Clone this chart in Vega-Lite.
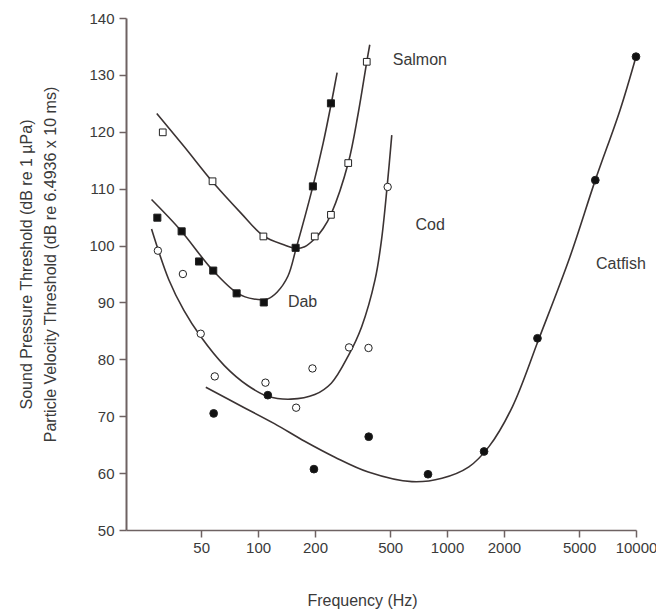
{
  "$schema": "https://vega.github.io/schema/vega-lite/v6.json",
  "autosize": {"type": "none"},
  "width": 510,
  "height": 512,
  "padding": {"left": 126, "top": 18, "right": 20, "bottom": 82},
  "background": "white",
  "config": {
    "view": {"stroke": null},
    "font": "Liberation Sans",
    "axis": {"grid": false}
  },
  "datasets": {
    "points": [
      {"species": "Salmon", "freq": 31.3, "threshold": 119.9},
      {"species": "Salmon", "freq": 57.4, "threshold": 111.3},
      {"species": "Salmon", "freq": 106.7, "threshold": 101.6},
      {"species": "Salmon", "freq": 199.5, "threshold": 101.6},
      {"species": "Salmon", "freq": 243, "threshold": 105.4},
      {"species": "Salmon", "freq": 300, "threshold": 114.5},
      {"species": "Salmon", "freq": 376, "threshold": 132.3},
      {"species": "Dab", "freq": 29.3, "threshold": 104.9},
      {"species": "Dab", "freq": 39.4, "threshold": 102.5},
      {"species": "Dab", "freq": 48.7, "threshold": 97.2},
      {"species": "Dab", "freq": 57.9, "threshold": 95.6},
      {"species": "Dab", "freq": 77, "threshold": 91.6},
      {"species": "Dab", "freq": 107.2, "threshold": 90.0},
      {"species": "Dab", "freq": 158, "threshold": 99.6},
      {"species": "Dab", "freq": 195, "threshold": 110.4},
      {"species": "Dab", "freq": 243, "threshold": 125.0},
      {"species": "Cod", "freq": 29.5, "threshold": 99.1},
      {"species": "Cod", "freq": 40, "threshold": 95.0},
      {"species": "Cod", "freq": 49.7, "threshold": 84.5},
      {"species": "Cod", "freq": 59, "threshold": 77.0},
      {"species": "Cod", "freq": 109.4, "threshold": 75.9},
      {"species": "Cod", "freq": 159, "threshold": 71.5},
      {"species": "Cod", "freq": 194, "threshold": 78.4},
      {"species": "Cod", "freq": 303, "threshold": 82.1},
      {"species": "Cod", "freq": 384, "threshold": 82.0},
      {"species": "Cod", "freq": 485, "threshold": 110.3},
      {"species": "Catfish", "freq": 58.2, "threshold": 70.5},
      {"species": "Catfish", "freq": 112.6, "threshold": 73.7},
      {"species": "Catfish", "freq": 197.5, "threshold": 60.7},
      {"species": "Catfish", "freq": 385, "threshold": 66.4},
      {"species": "Catfish", "freq": 793, "threshold": 59.8},
      {"species": "Catfish", "freq": 1570, "threshold": 63.8},
      {"species": "Catfish", "freq": 3010, "threshold": 83.7},
      {"species": "Catfish", "freq": 6090, "threshold": 111.5},
      {"species": "Catfish", "freq": 10000, "threshold": 133.2}
    ],
    "curves": [
      {"species": "Salmon", "freq": 29.1, "threshold": 123.2},
      {"species": "Salmon", "freq": 40.6, "threshold": 117.4},
      {"species": "Salmon", "freq": 57.4, "threshold": 111.2},
      {"species": "Salmon", "freq": 81.2, "threshold": 105.7},
      {"species": "Salmon", "freq": 106.7, "threshold": 101.7},
      {"species": "Salmon", "freq": 138, "threshold": 100.1},
      {"species": "Salmon", "freq": 159, "threshold": 99.5},
      {"species": "Salmon", "freq": 176.4, "threshold": 99.8},
      {"species": "Salmon", "freq": 199.5, "threshold": 101.2},
      {"species": "Salmon", "freq": 221, "threshold": 103.0},
      {"species": "Salmon", "freq": 244, "threshold": 105.6},
      {"species": "Salmon", "freq": 300, "threshold": 114.5},
      {"species": "Salmon", "freq": 339, "threshold": 123.3},
      {"species": "Salmon", "freq": 376, "threshold": 132.3},
      {"species": "Salmon", "freq": 390, "threshold": 135.3},
      {"species": "Dab", "freq": 27.3, "threshold": 108.1},
      {"species": "Dab", "freq": 38.9, "threshold": 102.7},
      {"species": "Dab", "freq": 57.4, "threshold": 95.7},
      {"species": "Dab", "freq": 78, "threshold": 91.6},
      {"species": "Dab", "freq": 95, "threshold": 90.6},
      {"species": "Dab", "freq": 112, "threshold": 90.6},
      {"species": "Dab", "freq": 126, "threshold": 91.8},
      {"species": "Dab", "freq": 143.8, "threshold": 94.6},
      {"species": "Dab", "freq": 159, "threshold": 99.5},
      {"species": "Dab", "freq": 195, "threshold": 110.4},
      {"species": "Dab", "freq": 221, "threshold": 118.0},
      {"species": "Dab", "freq": 244, "threshold": 125.0},
      {"species": "Dab", "freq": 262, "threshold": 130.4},
      {"species": "Cod", "freq": 27.3, "threshold": 102.9},
      {"species": "Cod", "freq": 33.7, "threshold": 94.0},
      {"species": "Cod", "freq": 40.5, "threshold": 88.6},
      {"species": "Cod", "freq": 49.7, "threshold": 84.0},
      {"species": "Cod", "freq": 66.3, "threshold": 78.9},
      {"species": "Cod", "freq": 88.1, "threshold": 75.4},
      {"species": "Cod", "freq": 112.6, "threshold": 73.5},
      {"species": "Cod", "freq": 149, "threshold": 73.0},
      {"species": "Cod", "freq": 199.6, "threshold": 73.8},
      {"species": "Cod", "freq": 244, "threshold": 75.8},
      {"species": "Cod", "freq": 300, "threshold": 80.6},
      {"species": "Cod", "freq": 353, "threshold": 85.7},
      {"species": "Cod", "freq": 416, "threshold": 94.0},
      {"species": "Cod", "freq": 450, "threshold": 101.0},
      {"species": "Cod", "freq": 482, "threshold": 110.4},
      {"species": "Cod", "freq": 510, "threshold": 119.4},
      {"species": "Catfish", "freq": 52.9, "threshold": 75.1},
      {"species": "Catfish", "freq": 81.2, "threshold": 71.8},
      {"species": "Catfish", "freq": 122, "threshold": 68.7},
      {"species": "Catfish", "freq": 176.4, "threshold": 65.6},
      {"species": "Catfish", "freq": 255, "threshold": 62.8},
      {"species": "Catfish", "freq": 383, "threshold": 60.2},
      {"species": "Catfish", "freq": 652, "threshold": 58.5},
      {"species": "Catfish", "freq": 940, "threshold": 59.1},
      {"species": "Catfish", "freq": 1305, "threshold": 61.1},
      {"species": "Catfish", "freq": 1670, "threshold": 64.7},
      {"species": "Catfish", "freq": 2220, "threshold": 71.7},
      {"species": "Catfish", "freq": 3070, "threshold": 83.7},
      {"species": "Catfish", "freq": 4470, "threshold": 98.0},
      {"species": "Catfish", "freq": 6090, "threshold": 111.5},
      {"species": "Catfish", "freq": 8230, "threshold": 123.8},
      {"species": "Catfish", "freq": 10000, "threshold": 133.2}
    ],
    "labels": [
      {"species": "Salmon", "freq": 718, "threshold": 132.6},
      {"species": "Dab", "freq": 172, "threshold": 90.0},
      {"species": "Cod", "freq": 814, "threshold": 103.6},
      {"species": "Catfish", "freq": 8320, "threshold": 96.8}
    ]
  },
  "encoding": {
    "x": {
      "field": "freq",
      "type": "quantitative",
      "scale": {"type": "log", "domain": [20, 10000], "nice": false},
      "axis": {
        "values": [50, 100, 200, 500, 1000, 2000, 5000, 10000],
        "format": "d",
        "title": "Frequency (Hz)",
        "titleFont": "Liberation Sans",
        "titleFontSize": 16,
        "titleFontWeight": "normal",
        "titleColor": "#3a3a3a",
        "titleX": 236,
        "titleY": 70,
        "titleBaseline": "middle",
        "titleAnchor": "middle",
        "labelFont": "Liberation Sans",
        "labelFontSize": 15,
        "labelColor": "#3a3a3a",
        "labelPadding": 3,
        "labelFlush": false,
        "labelOverlap": false,
        "tickSize": 7,
        "tickColor": "#6e6262",
        "tickWidth": 1.5,
        "domainColor": "#6e6262",
        "domainWidth": 1.5
      }
    },
    "y": {
      "field": "threshold",
      "type": "quantitative",
      "scale": {"domain": [50, 140], "nice": false, "zero": false},
      "axis": {
        "values": [50, 60, 70, 80, 90, 100, 110, 120, 130, 140],
        "title": ["Sound Pressure Threshold (dB re 1 µPa)", "Particle Velocity Threshold (dB re 6.4936 x 10 ms)"],
        "titleFont": "Liberation Sans",
        "titleFontSize": 16,
        "titleFontWeight": "normal",
        "titleColor": "#3a3a3a",
        "titleLineHeight": 24,
        "titleAngle": -90,
        "titleBaseline": "middle",
        "titleAlign": "center",
        "titleX": -100,
        "titleY": 246,
        "labelFont": "Liberation Sans",
        "labelFontSize": 15,
        "labelColor": "#3a3a3a",
        "labelPadding": 5,
        "labelFlush": false,
        "tickSize": 7,
        "tickColor": "#6e6262",
        "tickWidth": 1.5,
        "domainColor": "#6e6262",
        "domainWidth": 2
      }
    }
  },
  "layer": [
    {
      "data": {"name": "curves"},
      "mark": {"type": "line", "interpolate": "catmull-rom", "color": "#3b3333", "strokeWidth": 1.6},
      "encoding": {"detail": {"field": "species"}}
    },
    {
      "data": {"name": "points"},
      "mark": {"type": "point", "filled": false, "strokeWidth": 1, "stroke": "#222222", "opacity": 1},
      "encoding": {
        "shape": {
          "field": "species",
          "scale": {"domain": ["Salmon", "Dab", "Cod", "Catfish"], "range": ["square", "square", "circle", "circle"]},
          "legend": null
        },
        "fill": {
          "field": "species",
          "scale": {"domain": ["Salmon", "Dab", "Cod", "Catfish"], "range": ["#ffffff", "#111111", "#ffffff", "#111111"]},
          "legend": null
        },
        "size": {
          "field": "species",
          "type": "nominal",
          "scale": {"domain": ["Salmon", "Dab", "Cod", "Catfish"], "range": [45, 60, 40, 34]},
          "legend": null
        }
      }
    },
    {
      "data": {"name": "labels"},
      "mark": {"type": "text", "font": "Liberation Sans", "fontSize": 16, "color": "#3a3a3a", "align": "center", "baseline": "middle"},
      "encoding": {"text": {"field": "species"}}
    }
  ]
}
